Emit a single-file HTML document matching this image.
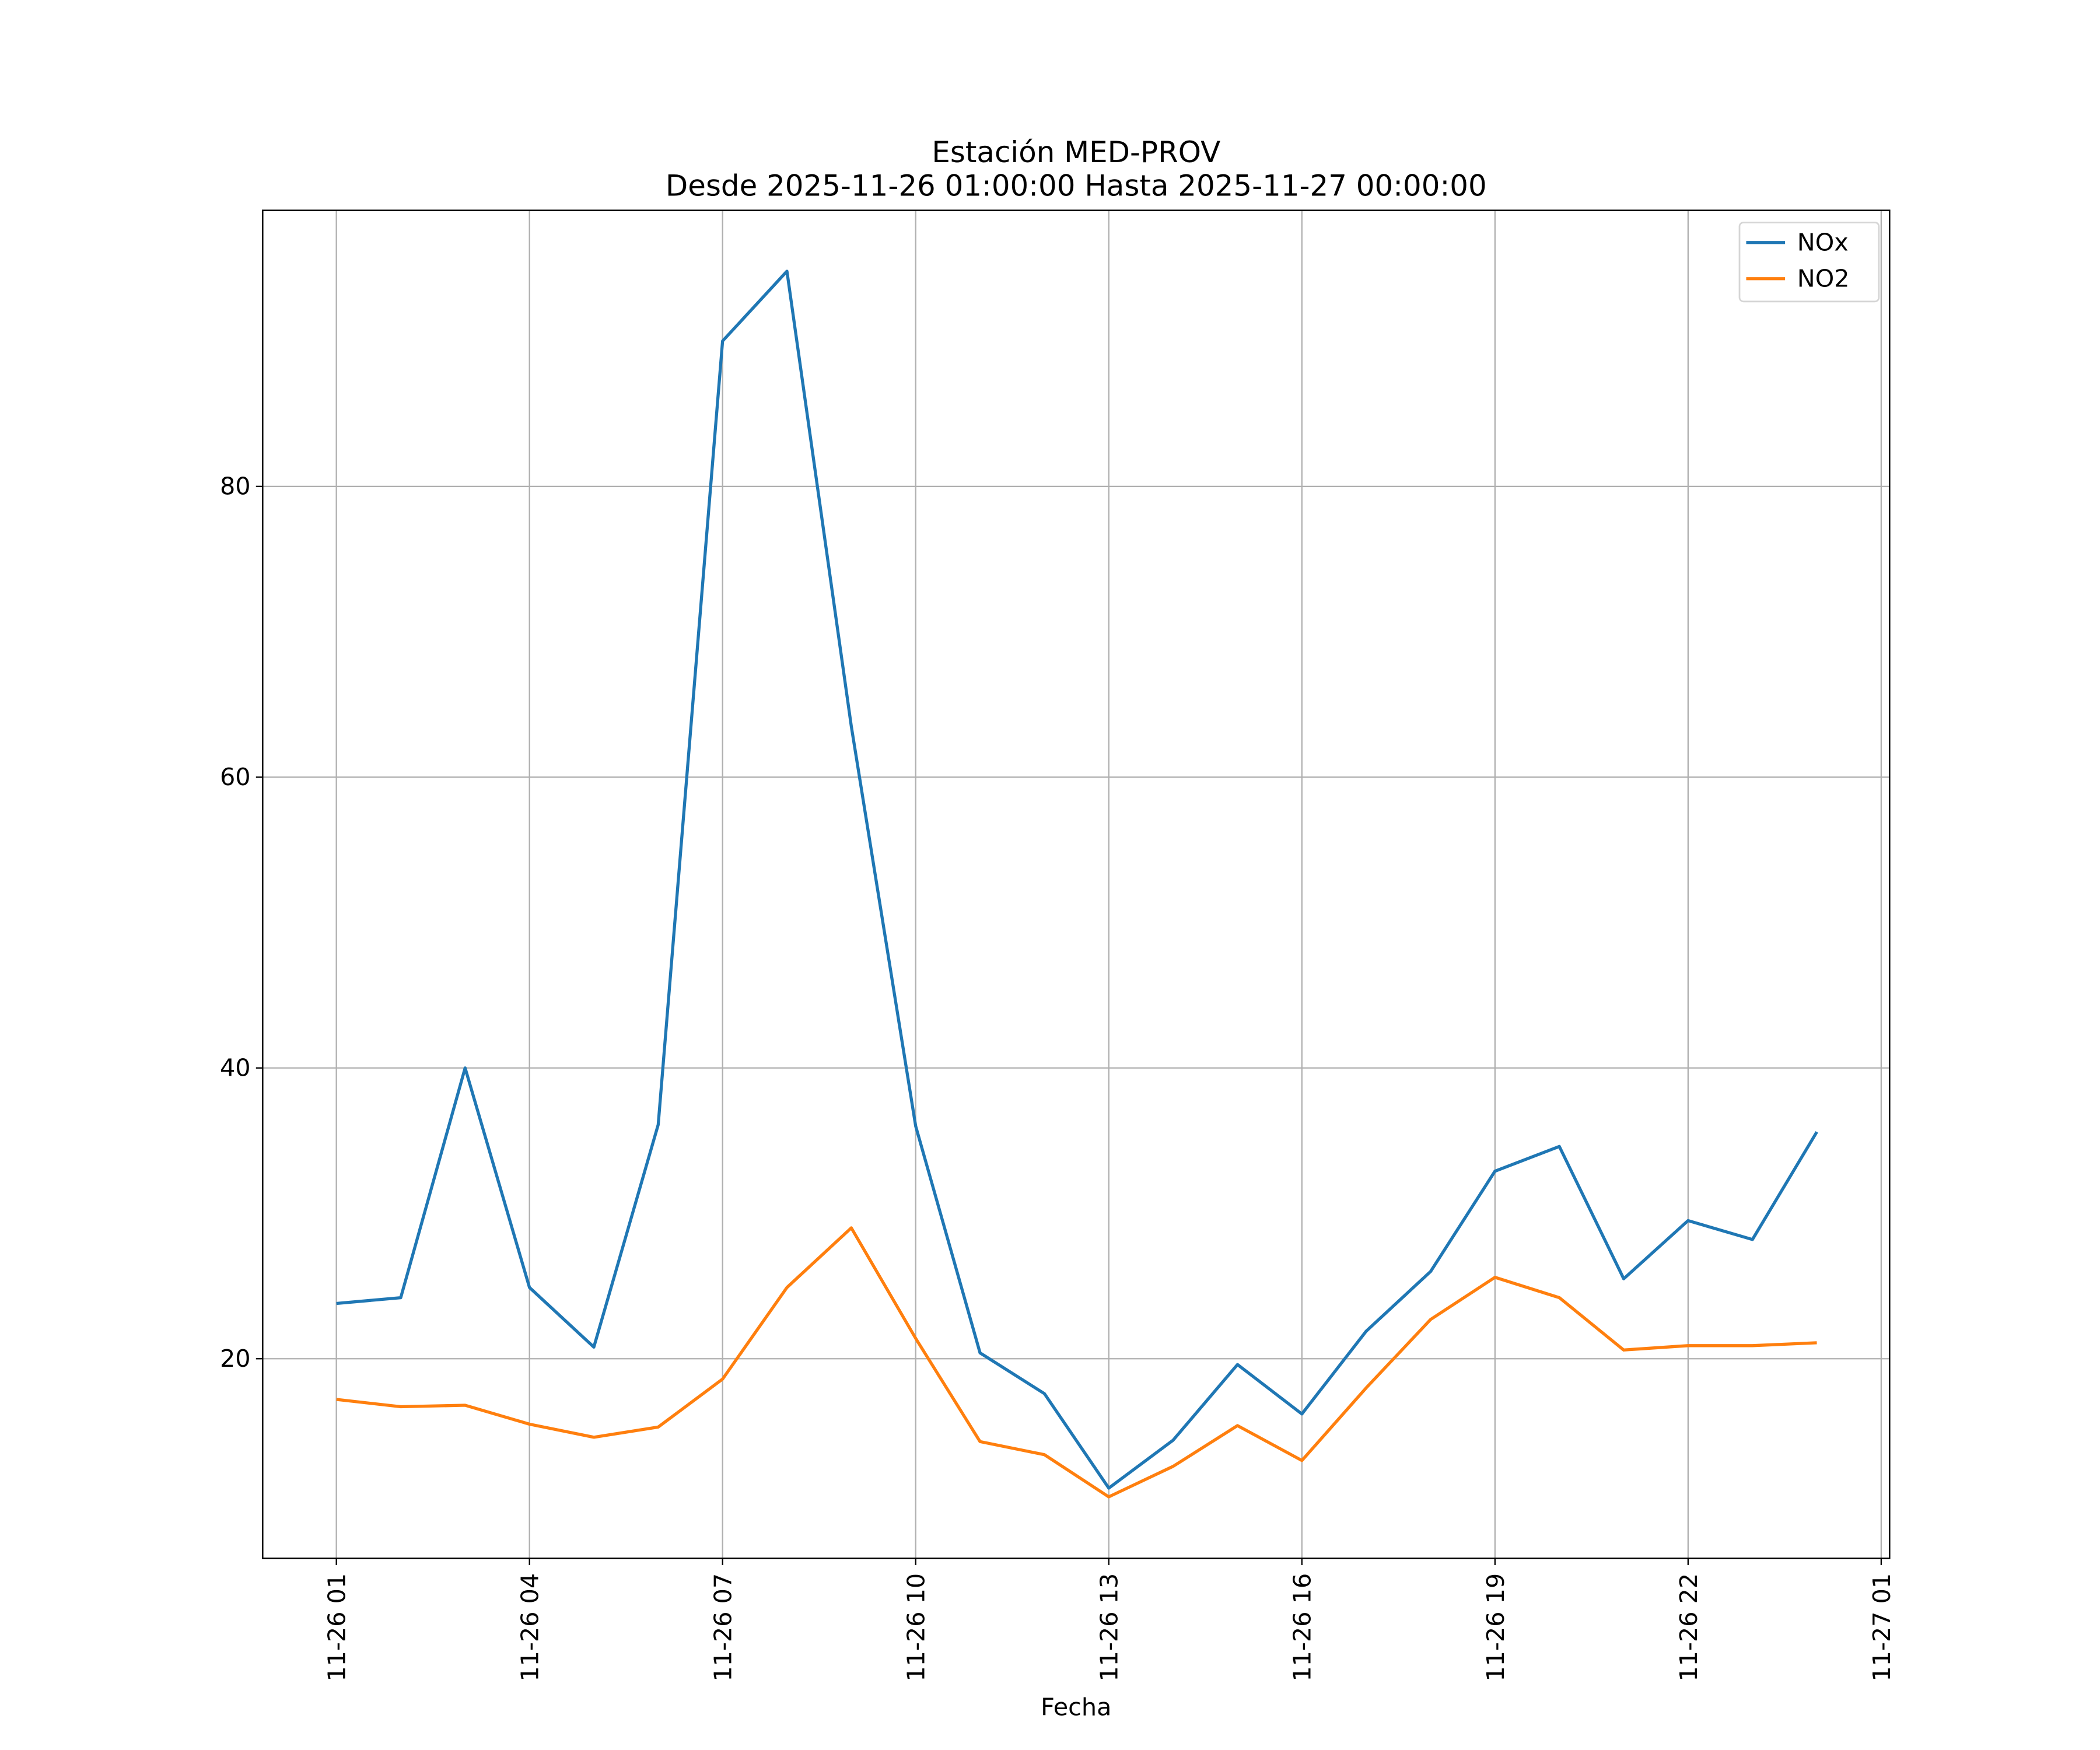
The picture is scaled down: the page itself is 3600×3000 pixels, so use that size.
<!DOCTYPE html>
<html><head><meta charset="utf-8"><style>
html,body{margin:0;padding:0;background:#fff;}
svg{display:block;font-family:"DejaVu Sans","Liberation Sans",sans-serif;}
</style></head><body>
<svg id="chart" width="3600" height="3000" viewBox="0 0 1567 1306" preserveAspectRatio="none" xmlns="http://www.w3.org/2000/svg">
<rect width="1567" height="1306" fill="#fff"/>
<text x="803" y="121" text-anchor="middle" font-size="21.7">Estación MED-PROV</text>
<text x="803" y="146" text-anchor="middle" font-size="21.7">Desde 2025-11-26 01:00:00 Hasta 2025-11-27 00:00:00</text>
<g id="grid"></g>
<g id="series"></g>
<rect x="196" y="157" width="1214" height="1006" fill="none" stroke="#000" stroke-width="1.1"/>
<g id="axes"></g>
<text x="803" y="1280" text-anchor="middle" font-size="18">Fecha</text>
<g>
<rect x="1298" y="166" width="104" height="59" rx="3" fill="#fff" stroke="#d5d5d5" stroke-width="1.2"/>
<line x1="1303" y1="181" x2="1332" y2="181" stroke="#1f77b4" stroke-width="2.3"/>
<text x="1341" y="187" font-size="18">NOx</text>
<line x1="1303" y1="208" x2="1332" y2="208" stroke="#ff7f0e" stroke-width="2.3"/>
<text x="1341" y="214" font-size="18">NO2</text>
</g>
</svg>
<script>
const hours = [1,2,3,4,5,6,7,8,9,10,11,12,13,14,15,16,17,18,19,20,21,22,23,24];
const noxValues = [23.8,24.2,40.0,24.9,20.8,36.1,90.0,94.8,63.5,36.0,20.4,17.6,11.1,14.4,19.6,16.2,21.9,26.0,32.9,34.6,25.5,29.5,28.2,35.6];
const no2Values = [17.2,16.7,16.8,15.5,14.6,15.3,18.6,24.9,29.0,21.4,14.3,13.4,10.5,12.6,15.4,13.0,18.0,22.7,25.6,24.2,20.6,20.9,20.9,21.1];
const yTicks = [20,40,60,80];
const xTickHours = [1,4,7,10,13,16,19,22,25];
const xTickLabels = ["11-26 01","11-26 04","11-26 07","11-26 10","11-26 13","11-26 16","11-26 19","11-26 22","11-27 01"];

const NS="http://www.w3.org/2000/svg";
const L=196,R=1410,T=157,B=1163;
const xS=h=>251+(h-1)*48.03;
const yS=v=>1231-v*10.85;
function mk(tag,attrs,parent){const e=document.createElementNS(NS,tag);for(const k in attrs)e.setAttribute(k,attrs[k]);parent.appendChild(e);return e;}
const grid=document.getElementById('grid'),axes=document.getElementById('axes'),series=document.getElementById('series');
yTicks.forEach(v=>{
  const y=yS(v);
  const g=mk('line',{x1:L,x2:R,y1:y,y2:y,stroke:'#b0b0b0','stroke-width':1},grid);
  
  
  mk('line',{x1:L-5,x2:L,y1:y,y2:y,stroke:'#000','stroke-width':1},axes);
  const t=mk('text',{x:L-9,y:y+6,'text-anchor':'end','font-size':18},axes);
  t.textContent=v;
  
  
});
xTickHours.forEach((h,i)=>{
  const x=xS(h);
  const g=mk('line',{x1:x,x2:x,y1:T,y2:B,stroke:'#b0b0b0','stroke-width':1},grid);
  
  
  mk('line',{x1:x,x2:x,y1:B,y2:B+5,stroke:'#000','stroke-width':1},axes);
  const t=mk('text',{x:0,y:0,'text-anchor':'end','font-size':18,transform:`translate(${x+6.5},${B+11}) rotate(-90)`},axes);
  t.textContent=xTickLabels[i];
  
  
});
function draw(vals,color,name){
  const p=mk('polyline',{points:vals.map((v,i)=>xS(hours[i])+','+yS(v)).join(' '),fill:'none',stroke:color,'stroke-width':2.3,'stroke-linejoin':'round'},series);
  
  
}
draw(noxValues,'#1f77b4','nox-line');
draw(no2Values,'#ff7f0e','no2-line');
</script>
</body></html>
